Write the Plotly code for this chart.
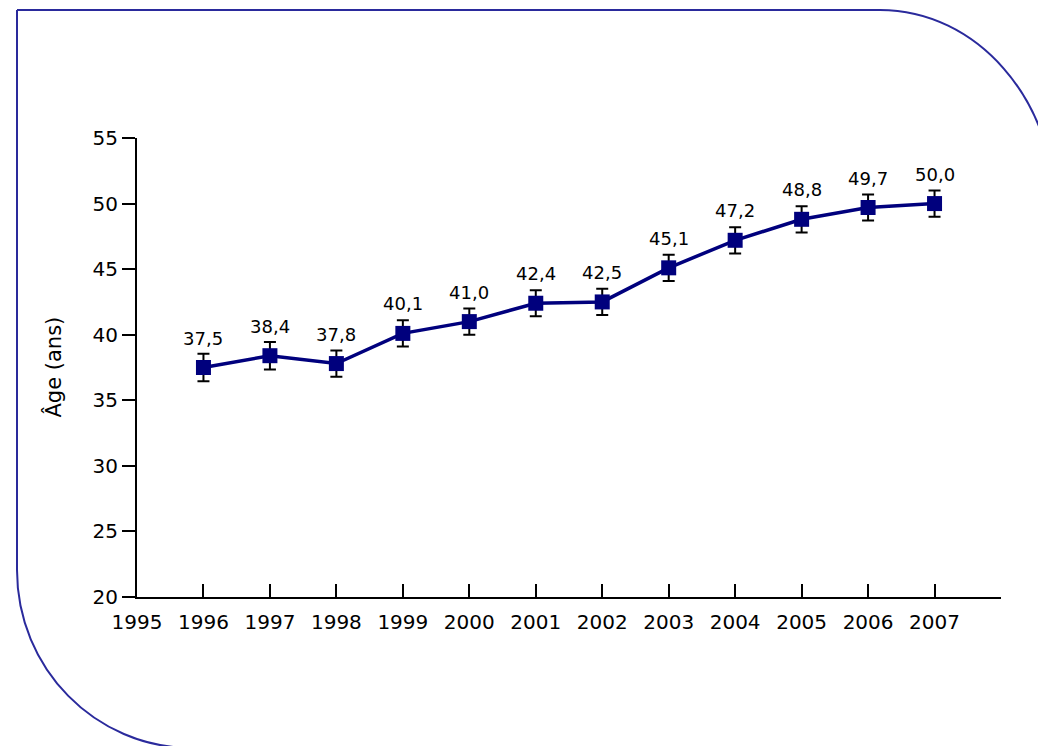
import plotly.graph_objects as go

# Mean age per year with its error margin
years = [1996, 1997, 1998, 1999, 2000, 2001, 2002, 2003, 2004, 2005, 2006, 2007]
age = [37.5, 38.4, 37.8, 40.1, 41.0, 42.4, 42.5, 45.1, 47.2, 48.8, 49.7, 50.0]
err = [1.05, 1.05, 1.0, 1.0, 1.0, 1.0, 1.0, 1.0, 1.0, 1.0, 1.0, 1.0]
x_ticks = [1995, 1996, 1997, 1998, 1999, 2000, 2001, 2002, 2003, 2004, 2005, 2006, 2007, 2008]
x_tick_text = ["1995", "1996", "1997", "1998", "1999", "2000", "2001", "2002",
               "2003", "2004", "2005", "2006", "2007", ""]
y_ticks = [20, 25, 30, 35, 40, 45, 50, 55]

W, H = 1038, 746
L, R, T, B = 137, 37, 138, 149
PW, PH = W - L - R, H - T - B

NAVY = "#00007d"
FONT = "DejaVu Sans"


def px(x):
    return (x - L) / PW


def py(y):
    return (H - B - y) / PH


fig = go.Figure()
fig.add_trace(go.Scatter(
    x=years, y=age,
    mode="lines+markers",
    line=dict(color=NAVY, width=3.5),
    marker=dict(symbol="square", size=15, color=NAVY),
    error_y=dict(type="data", array=err, visible=True,
                 color="#000000", thickness=2, width=6),
    showlegend=False,
))

# value labels above each point
for xv, yv in zip(years, age):
    fig.add_annotation(
        x=xv, y=yv, text=f"{yv:.1f}".replace(".", ","),
        showarrow=False, yanchor="bottom", yshift=17,
        font=dict(family=FONT, size=18, color="#000000"),
    )

# y-axis title
fig.add_annotation(
    xref="paper", yref="paper", x=px(53), y=0.5,
    text="Âge (ans)", textangle=-90, showarrow=False,
    xanchor="center", yanchor="middle",
    font=dict(family=FONT, size=21, color="#000000"),
)

# outer frame with rounded corners
k = 0.5523
ax, ay = 175, 200
x0, y0 = 880, 10
tr = (f"M {px(17)},{py(10)} L {px(x0)},{py(y0)} "
      f"C {px(x0 + k * ax)},{py(y0)} {px(x0 + ax)},{py(y0 + ay - k * ay)} "
      f"{px(x0 + ax)},{py(y0 + ay)}")
bx, by = 175, 178
x1, y1 = 17, 570
bl = (f"M {px(x1)},{py(10)} L {px(x1)},{py(y1)} "
      f"C {px(x1)},{py(y1 + k * by)} {px(x1 + bx - k * bx)},{py(y1 + by)} "
      f"{px(x1 + bx)},{py(y1 + by)} L {px(x1 + bx + 100)},{py(y1 + by)}")
for p in (tr, bl):
    fig.add_shape(type="path", xref="paper", yref="paper", path=p,
                  line=dict(color="#2a2a9c", width=2), layer="below")

fig.update_layout(
    width=W, height=H,
    margin=dict(l=L, r=R, t=T, b=B, pad=0),
    paper_bgcolor="#ffffff", plot_bgcolor="#ffffff",
    font=dict(family=FONT, size=20, color="#000000"),
)
fig.update_xaxes(
    range=[1995, 2008], tickvals=x_ticks, ticktext=x_tick_text,
    showgrid=False, zeroline=False,
    showline=True, linecolor="#000000", linewidth=2,
    ticks="inside", ticklen=13, tickwidth=2, tickcolor="#000000",
    ticklabelstandoff=6,
    tickfont=dict(family=FONT, size=20, color="#000000"),
)
fig.update_yaxes(
    range=[20, 55], tickvals=y_ticks,
    showgrid=False, zeroline=False,
    showline=True, linecolor="#000000", linewidth=2,
    ticks="outside", ticklen=13, tickwidth=2, tickcolor="#000000",
    tickfont=dict(family=FONT, size=20, color="#000000"),
)

fig.write_html("out.html")
